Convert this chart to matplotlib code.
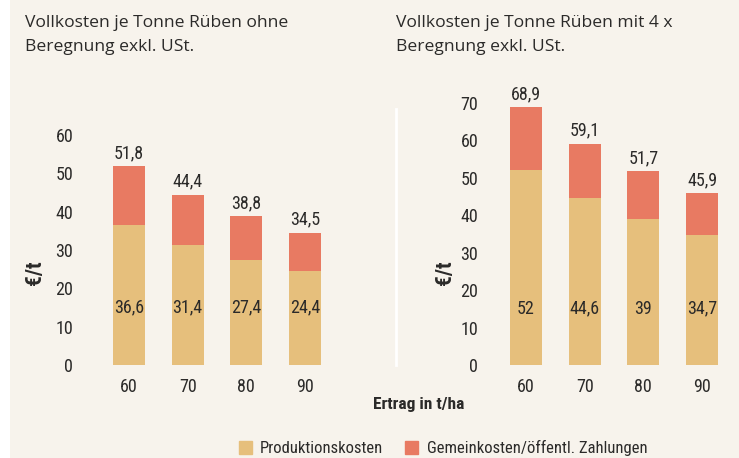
import matplotlib
matplotlib.use("Agg")
import matplotlib.pyplot as plt
from matplotlib.lines import Line2D
from matplotlib.patches import Rectangle
from matplotlib import font_manager

# Data
ertrag = ["60", "70", "80", "90"]
prod_ohne = [36.6, 31.4, 27.4, 24.4]
total_ohne = [51.8, 44.4, 38.8, 34.5]
prod_mit = [52, 44.6, 39, 34.7]
total_mit = [68.9, 59.1, 51.7, 45.9]
prod_label_ohne = ["36,6", "31,4", "27,4", "24,4"]
prod_label_mit = ["52", "44,6", "39", "34,7"]
total_label_ohne = ["51,8", "44,4", "38,8", "34,5"]
total_label_mit = ["68,9", "59,1", "51,7", "45,9"]

C_PROD = "#E6BF7C"
C_GEM = "#E87A62"
BG = "#F7F3EC"
TXT = "#2B2A29"
W, H = 739, 458

installed = {f.name for f in font_manager.fontManager.ttflist}
narrow = [f for f in ["Liberation Sans Narrow", "Roboto Condensed", "DejaVu Sans Condensed",
                      "Open Sans Condensed", "Noto Sans Condensed", "DejaVu Sans"]
          if f in installed]
title_font = ["Open Sans", "DejaVu Sans"]
NUM = 13

fig = plt.figure(figsize=(W / 100, H / 100), dpi=100, facecolor="white")
fig.add_artist(Rectangle((10 / W, 0), 1, 1, transform=fig.transFigure,
                         facecolor=BG, edgecolor="none", zorder=0))


def px_axes(x0, x1, ybot, ytop):
    return fig.add_axes([x0 / W, (H - ybot) / H, (x1 - x0) / W, (ybot - ytop) / H])


def draw_panel(ax, prod, total, prod_lbl, tot_lbl, ymax, yticks, xl, label_xy):
    ax.set_facecolor("none")
    x = list(range(len(ertrag)))
    gem = [t - p for t, p in zip(total, prod)]
    ax.bar(x, prod, width=0.545, color=C_PROD, edgecolor="none")
    ax.bar(x, gem, bottom=prod, width=0.545, color=C_GEM, edgecolor="none")
    for i in x:
        ax.text(i, 15, prod_lbl[i], ha="center", va="center", fontsize=NUM,
                family=narrow, color=TXT)
        ax.annotate(tot_lbl[i], (i, total[i]), xytext=(0, 3), textcoords="offset points",
                    ha="center", va="bottom", fontsize=NUM, family=narrow, color=TXT)
    ax.set_xlim(*xl)
    ax.set_ylim(0, ymax)
    ax.set_yticks(yticks)
    ax.set_xticks(x)
    ax.set_xticklabels(ertrag)
    ax.tick_params(length=0, labelsize=NUM, colors=TXT)
    ax.tick_params(axis="y", pad=12)
    ax.tick_params(axis="x", pad=9)
    for lab in ax.get_xticklabels() + ax.get_yticklabels():
        lab.set_family(narrow)
    for s in ax.spines.values():
        s.set_visible(False)
    ax.set_ylabel("€/t", fontsize=15.5, fontweight="bold", family=narrow, color=TXT,
                  va="center")
    ax.yaxis.set_label_coords(*label_xy)


# spacing 58.7 px per category
ax1 = px_axes(90, 345, 365, 135)
draw_panel(ax1, prod_ohne, total_ohne, prod_label_ohne, total_label_ohne, 60,
           range(0, 61, 10), (-(129 - 90) / 58.7, 3 + (345 - 305) / 58.7),
           ((35 - 90) / 255, (365 - 273) / 230))

ax2 = px_axes(495, 739, 365, 103)
draw_panel(ax2, prod_mit, total_mit, prod_label_mit, total_label_mit, 70,
           range(0, 71, 10), (-(526 - 495) / 58.7, 3 + (739 - 702) / 58.7),
           ((445 - 495) / 244, (365 - 273) / 262))

# separator
fig.add_artist(Line2D([396 / W, 396 / W], [(H - 365) / H, (H - 109) / H],
                      transform=fig.transFigure, color="white", lw=2))

# titles
fig.text(25 / W, 1 - 15 / H, "Vollkosten je Tonne Rüben ohne\nBeregnung exkl. USt.",
         ha="left", va="top", fontsize=12.6, family=title_font, color=TXT, linespacing=1.7)
fig.text(396 / W, 1 - 15 / H, "Vollkosten je Tonne Rüben mit 4 x\nBeregnung exkl. USt.",
         ha="left", va="top", fontsize=12.6, family=title_font, color=TXT, linespacing=1.7)

fig.text(419 / W, 1 - 405 / H, "Ertrag in t/ha", ha="center", va="center",
         fontsize=12.5, fontweight="bold", family=narrow, color=TXT)

# legend
handles = [Rectangle((0, 0), 1, 1, color=C_PROD), Rectangle((0, 0), 1, 1, color=C_GEM)]
fig.legend(handles, ["Produktionskosten", "Gemeinkosten/öffentl. Zahlungen"],
           loc="center", bbox_to_anchor=(443 / W, 1 - 448 / H), ncol=2, frameon=False,
           handlelength=0.8, handleheight=0.8, handletextpad=0.5, columnspacing=1.3,
           prop={"family": narrow, "size": 12}, labelcolor=TXT)

fig.savefig("out.png", dpi=100, facecolor="white")
